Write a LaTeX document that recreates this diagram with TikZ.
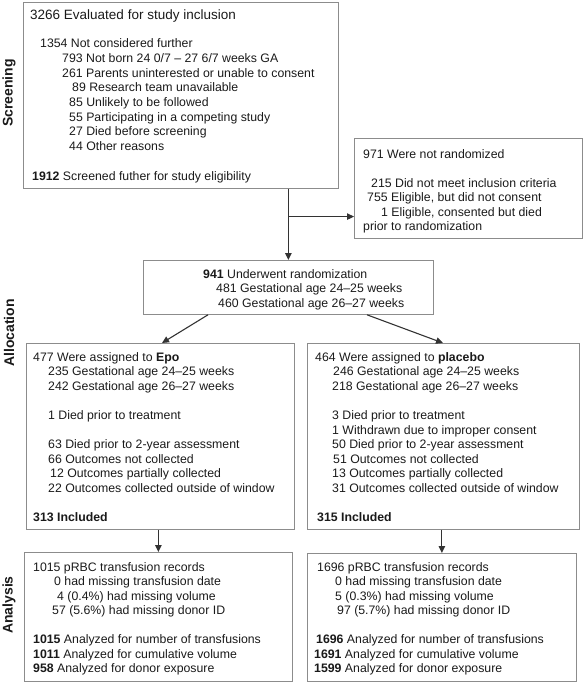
\documentclass[tikz,border=0pt]{standalone}
\usepackage{fontspec}
\setmainfont{Liberation Sans}
\usetikzlibrary{arrows.meta,calc}
\definecolor{boxgray}{HTML}{8C8C8C}
\definecolor{arrgray}{HTML}{333333}
\definecolor{txtcol}{HTML}{1A1A1A}
\tikzset{
 boxs/.style={draw=boxgray, line width=0.8pt, inner sep=0pt, anchor=north west},
 txt/.style={anchor=base west, inner sep=0pt, font=\fontsize{12.3}{14.6}\selectfont, text=txtcol},
 ttl/.style={txt, font=\fontsize{13.5}{16}\selectfont},
 arr/.style={draw=arrgray, line width=1.1pt, -{Triangle[length=7pt,width=6.5pt]}},
 lab/.style={font=\fontsize{14}{16}\selectfont\bfseries, rotate=90, inner sep=0pt, text=txtcol}
}
\newcommand\TL[4]{\node[txt] (#1) at (#2,#3) {#4};}
\begin{document}
\begin{tikzpicture}[x=1pt,y=-1pt]
\useasboundingbox (0,0) rectangle (584,685);
% boxes
\node[boxs, minimum width=315pt, minimum height=186pt] (b1) at (23,2) {};
\node[boxs, minimum width=228pt, minimum height=100pt] (b2) at (354,138) {};
\node[boxs, minimum width=290pt, minimum height=54pt] (b3) at (143,260) {};
\node[boxs, minimum width=268pt, minimum height=186pt] (b4) at (26,343) {};
\node[boxs, minimum width=272pt, minimum height=186pt] (b5) at (307,343) {};
\node[boxs, minimum width=268pt, minimum height=129pt] (b6) at (24,552) {};
\node[boxs, minimum width=269pt, minimum height=128pt] (b7) at (307,553) {};
% side labels
\node[lab] (ls) at (9,93) {Screening};
\node[lab] (la) at (9,333) {Allocation};
\node[lab] (ln) at (9,605) {Analysis};
% box 1
\node[ttl] (a1) at (30,19.5) {3266 Evaluated for study inclusion};
\TL{a2}{40}{48}{1354 Not considered further}
\TL{a3}{62}{62.6}{793 Not born 24 0/7 – 27 6/7 weeks GA}
\TL{a4}{62}{77.2}{261 Parents uninterested or unable to consent}
\TL{a5}{72}{91.8}{89 Research team unavailable}
\TL{a6}{69}{106.4}{85 Unlikely to be followed}
\TL{a7}{69}{121}{55 Participating in a competing study}
\TL{a8}{69}{135.6}{27 Died before screening}
\TL{a9}{69}{150.2}{44 Other reasons}
\TL{a10}{32}{180}{\textbf{1912} Screened futher for study eligibility}
% box 2
\TL{c1}{363}{158}{971 Were not randomized}
\TL{c2}{371}{187}{215 Did not meet inclusion criteria}
\TL{c3}{367}{201.5}{755 Eligible, but did not consent}
\TL{c4}{381}{216}{1 Eligible, consented but died}
\TL{c5}{363}{230.5}{prior to randomization}
% randomization
\TL{r1}{203}{278}{\textbf{941} Underwent randomization}
\TL{r2}{216}{292.5}{481 Gestational age 24–25 weeks}
\TL{r3}{218}{307}{460 Gestational age 26–27 weeks}
% Epo
\TL{e1}{33}{361}{477 Were assigned to \textbf{Epo}}
\TL{e2}{48}{375.6}{235 Gestational age 24–25 weeks}
\TL{e3}{48}{390.2}{242 Gestational age 26–27 weeks}
\TL{e4}{48}{419.4}{1 Died prior to treatment}
\TL{e5}{48}{448.6}{63 Died prior to 2-year assessment}
\TL{e6}{48}{463.2}{66 Outcomes not collected}
\TL{e7}{50}{477.8}{12 Outcomes partially collected}
\TL{e8}{48}{492.4}{22 Outcomes collected outside of window}
\TL{e9}{33}{521.6}{\textbf{313 Included}}
% placebo
\TL{p1}{315}{361}{464 Were assigned to \textbf{placebo}}
\TL{p2}{333}{375.6}{246 Gestational age 24–25 weeks}
\TL{p3}{332}{390.2}{218 Gestational age 26–27 weeks}
\TL{p4}{332}{419.4}{3 Died prior to treatment}
\TL{p5}{332}{434}{1 Withdrawn due to improper consent}
\TL{p6}{332}{448.6}{50 Died prior to 2-year assessment}
\TL{p7}{333}{463.2}{51 Outcomes not collected}
\TL{p8}{332}{477.8}{13 Outcomes partially collected}
\TL{p9}{332}{492.4}{31 Outcomes collected outside of window}
\TL{p10}{317}{521.6}{\textbf{315 Included}}
% analysis left
\TL{l1}{33}{571}{1015 pRBC transfusion records}
\TL{l2}{54}{585.5}{0 had missing transfusion date}
\TL{l3}{57}{600}{4 (0.4\%) had missing volume}
\TL{l4}{52}{614.5}{57 (5.6\%) had missing donor ID}
\TL{l5}{33}{643.5}{\textbf{1015} Analyzed for number of transfusions}
\TL{l6}{33}{658}{\textbf{1011} Analyzed for cumulative volume}
\TL{l7}{33}{672.5}{\textbf{958} Analyzed for donor exposure}
% analysis right
\TL{m1}{317}{571}{1696 pRBC transfusion records}
\TL{m2}{335}{585.5}{0 had missing transfusion date}
\TL{m3}{335}{600}{5 (0.3\%) had missing volume}
\TL{m4}{337}{614.5}{97 (5.7\%) had missing donor ID}
\TL{m5}{316}{643.5}{\textbf{1696} Analyzed for number of transfusions}
\TL{m6}{314}{658}{\textbf{1691} Analyzed for cumulative volume}
\TL{m7}{314}{672.5}{\textbf{1599} Analyzed for donor exposure}
% connectors
\coordinate (j) at ($(b1.south -| b3.north)!0.39!(b3.north)$);
\draw[arr] (b1.south -| b3.north) -- (b3.north);
\draw[arr] (j) -- (j -| b2.west);
\draw[arr] ($(b3.south west)+(65,0)$) -- ($(b4.north west)+(136,0)$);
\draw[arr] ($(b3.south west)+(224,0)$) -- ($(b5.north west)+(136,0)$);
\draw[arr] ($(b4.south)+(-2,0)$) -- ($(b4.south |- b6.north)+(-2,0)$);
\draw[arr] (b7.north |- b5.south) -- (b7.north);
\end{tikzpicture}
\end{document}
